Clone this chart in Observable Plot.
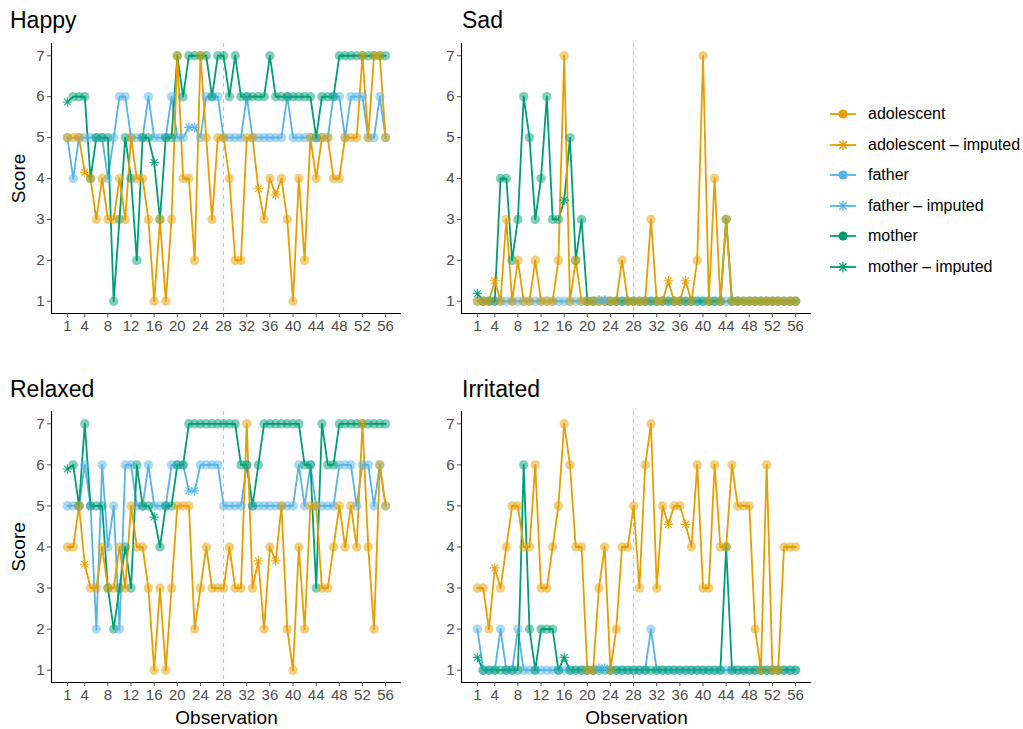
<!DOCTYPE html>
<html>
<head>
<meta charset="utf-8">
<script src="https://cdn.jsdelivr.net/npm/d3@7"></script>
<script src="https://cdn.jsdelivr.net/npm/@observablehq/plot@0.6"></script>
<style>
  body { margin: 0; background: #fff; font-family: "Liberation Sans", Arial, Helvetica, sans-serif; }
  #root { position: relative; width: 1023px; height: 729px; overflow: hidden; background: #fff; }
  .panel { position: absolute; }
  .title { position: absolute; font-size: 23px; line-height: 1; color: #000; white-space: nowrap; }
  .legend-row { position: absolute; left: 828px; height: 22px; display: flex; align-items: center; }
  .legend-row span { font-size: 16px; color: #000; margin-left: 10px; white-space: nowrap; }
</style>
</head>
<body>
<div id="root"></div>
<script>
// ---------------- data ----------------
const roles = ["adolescent", "father", "mother"];
const roleColors = ["#E69F00", "#56B4E9", "#009E73"];
const observationTicks = [1, 4, 8, 12, 16, 20, 24, 28, 32, 36, 40, 44, 48, 52, 56];
const scoreTicks = [1, 2, 3, 4, 5, 6, 7];
const splitObservation = 28;

// observations (1-based) that were imputed for each informant
const imputedAdolescent = [4, 34, 37];
const imputedFather = [22, 23];
const imputedMother = [1, 16];

const happyAdolescent = [
  5, 5, 5, 4.15, 4, 3, 4, 3, 3, 4,
  3, 5, 4, 4, 3, 1, 3, 1, 3, 7,
  4, 4, 2, 7, 5, 3, 5, 5, 4, 2,
  2, 5, 5, 3.75, 3, 4, 3.6, 4, 3, 1,
  4, 2, 5, 4, 5, 5, 4, 4, 5, 5,
  5, 7, 5, 7, 7, 5];
const happyFather = [
  5, 4, 5, 5, 5, 5, 5, 4, 5, 6,
  6, 5, 5, 5, 6, 5, 5, 5, 6, 5,
  5, 5.25, 5.25, 5, 6, 6, 6, 5, 5, 5,
  5, 6, 5, 5, 5, 5, 5, 5, 6, 5,
  5, 5, 5, 5, 5, 5, 6, 6, 5, 6,
  6, 6, 5, 5, 6, 5];
const happyMother = [
  5.87, 6, 6, 6, 4, 5, 5, 5, 1, 3,
  5, 4, 2, 5, 5, 4.39, 3, 5, 5, 7,
  6, 7, 7, 7, 7, 6, 7, 7, 6, 7,
  6, 6, 6, 6, 6, 7, 6, 6, 6, 6,
  6, 6, 6, 5, 6, 6, 6, 7, 7, 7,
  7, 7, 7, 7, 7, 7];

const sadAdolescent = [
  1, 1, 1, 1.5, 1, 3, 1, 2, 1, 1,
  2, 1, 1, 1, 2, 7, 1, 2, 1, 1,
  1, 1, 1, 1, 1, 2, 1, 1, 1, 1,
  3, 1, 1, 1.5, 1, 1, 1.5, 1, 2, 7,
  1, 4, 1, 3, 1, 1, 1, 1, 1, 1,
  1, 1, 1, 1, 1, 1];
const sadFather = [
  1, 1, 1, 1, 1, 1, 1, 1, 1, 1,
  1, 1, 1, 1, 1, 1, 1, 1, 1, 1,
  1, 1.03, 1.03, 1, 1, 1, 1, 1, 1, 1,
  1, 1, 1, 1, 1, 1, 1, 1, 1, 1,
  1, 1, 1, 1, 1, 1, 1, 1, 1, 1,
  1, 1, 1, 1, 1, 1];
const sadMother = [
  1.19, 1, 1, 1, 4, 4, 2, 3, 6, 5,
  3, 4, 6, 3, 3, 3.47, 5, 2, 3, 1,
  1, 1, 1, 1, 1, 1, 1, 1, 1, 1,
  1, 1, 1, 1, 1, 1, 1, 1, 1, 1,
  1, 1, 1, 3, 1, 1, 1, 1, 1, 1,
  1, 1, 1, 1, 1, 1];

const relaxedAdolescent = [
  4, 4, 5, 3.58, 3, 3, 4, 3, 3, 4,
  3, 5, 4, 4, 3, 1, 3, 1, 3, 5,
  5, 5, 2, 3, 4, 3, 3, 3, 4, 3,
  3, 7, 3, 3.66, 2, 4, 3.66, 5, 2, 1,
  4, 2, 5, 5, 3, 3, 4, 5, 4, 5,
  4, 7, 4, 2, 6, 5];
const relaxedFather = [
  5, 5, 5, 6, 5, 2, 6, 4, 5, 2,
  6, 6, 5, 5, 6, 5, 5, 5, 6, 6,
  6, 5.37, 5.37, 6, 6, 6, 6, 5, 5, 5,
  5, 6, 5, 5, 5, 5, 5, 5, 5, 5,
  6, 5, 6, 5, 5, 5, 5, 6, 6, 6,
  5, 6, 6, 5, 6, 5];
const relaxedMother = [
  5.9, 6, 5, 7, 5, 5, 5, 3, 2, 3,
  4, 3, 6, 5, 5, 4.73, 4, 5, 5, 6,
  6, 7, 7, 7, 7, 7, 7, 7, 7, 7,
  6, 6, 5, 6, 7, 7, 7, 7, 7, 7,
  7, 6, 6, 3, 7, 6, 6, 7, 7, 7,
  7, 7, 7, 7, 7, 7];

const irritatedAdolescent = [
  3, 3, 2, 3.49, 3, 4, 5, 5, 4, 4,
  6, 3, 3, 4, 5, 7, 6, 4, 4, 1,
  1, 3, 4, 1, 2, 4, 4, 5, 3, 6,
  7, 3, 5, 4.55, 5, 5, 4.55, 4, 6, 3,
  3, 6, 4, 4, 6, 5, 5, 5, 2, 1,
  6, 1, 1, 4, 4, 4];
const irritatedFather = [
  2, 1, 1, 1, 2, 1, 1, 2, 1, 1,
  1, 1, 1, 1, 1, 1, 1, 1, 1, 1,
  1, 1.05, 1.05, 1, 1, 1, 1, 1, 1, 1,
  2, 1, 1, 1, 1, 1, 1, 1, 1, 1,
  1, 1, 1, 1, 1, 1, 1, 1, 1, 1,
  1, 1, 1, 1, 1, 1];
const irritatedMother = [
  1.31, 1, 1, 1, 1, 1, 1, 1, 6, 2,
  1, 2, 2, 2, 1, 1.31, 1, 1, 1, 1,
  1, 1, 1, 1, 1, 1, 1, 1, 1, 1,
  1, 1, 1, 1, 1, 1, 1, 1, 1, 1,
  1, 1, 1, 4, 1, 1, 1, 1, 1, 1,
  1, 1, 1, 1, 1, 1];

// ---------------- build ----------------
function rowsFor(adolescent, father, mother) {
  const out = [];
  const add = (vals, role, imputed) => vals.forEach((v, i) =>
    out.push({obs: i + 1, score: v, role, imputed: imputed.includes(i + 1)}));
  // draw order: father, mother, adolescent (adolescent on top)
  add(father, "father", imputedFather);
  add(mother, "mother", imputedMother);
  add(adolescent, "adolescent", imputedAdolescent);
  return out;
}

const obsMin = observationTicks[0], obsMax = observationTicks[observationTicks.length - 1];
const xPad = (obsMax - obsMin) * 0.05;
const xDomain = [obsMin - xPad, obsMax + xPad];
const yPad = (scoreTicks[scoreTicks.length - 1] - scoreTicks[0]) * 0.05;
const yDomain = [scoreTicks[0] - yPad, scoreTicks[scoreTicks.length - 1] + yPad];

const asterisk8 = {
  draw(ctx, size) {
    const r = Math.sqrt(size / Math.PI);
    const d = r * Math.SQRT1_2;
    ctx.moveTo(-r, 0); ctx.lineTo(r, 0);
    ctx.moveTo(0, -r); ctx.lineTo(0, r);
    ctx.moveTo(-d, -d); ctx.lineTo(d, d);
    ctx.moveTo(-d, d); ctx.lineTo(d, -d);
  }
};

const root = document.getElementById("root");
const fontFamily = '"Liberation Sans", Arial, Helvetica, sans-serif';

function makePanel(cfg) {
  const rows = rowsFor(...cfg.series);
  const marks = [
    Plot.ruleX([splitObservation], {stroke: "#BDBDBD", strokeWidth: 1, strokeDasharray: "4,4"}),
    Plot.line(rows, {x: "obs", y: "score", z: "role", stroke: "role", strokeWidth: 1.8}),
    Plot.dot(rows.filter(d => !d.imputed), {x: "obs", y: "score", fill: "role", r: 4.7, fillOpacity: 0.5, stroke: "none"}),
    Plot.dot(rows.filter(d => d.imputed), {x: "obs", y: "score", stroke: "role", fill: "none", symbol: asterisk8, r: 4.8, strokeWidth: 1.2, strokeOpacity: 0.85}),
    Plot.ruleX([xDomain[0]], {stroke: "#000", strokeWidth: 1.1}),
    Plot.ruleY([yDomain[0]], {stroke: "#000", strokeWidth: 1.1}),
    Plot.axisX({ticks: observationTicks, tickFormat: "d", tickSize: 4, tickPadding: 3, label: null, fontSize: 15, color: "#4D4D4D"}),
    Plot.axisY({ticks: scoreTicks, tickFormat: "d", tickSize: 4, tickPadding: 3, label: null, fontSize: 15, color: "#4D4D4D"})
  ];
  if (cfg.yLabel) marks.push(Plot.text([cfg.yLabel], {text: d => d, frameAnchor: "left", dx: -33, rotate: -90, textAnchor: "middle", lineAnchor: "middle", fontSize: 19, fill: "#000"}));
  if (cfg.xLabel) marks.push(Plot.text([cfg.xLabel], {text: d => d, frameAnchor: "bottom", dy: 35, textAnchor: "middle", lineAnchor: "middle", fontSize: 19, fill: "#000"}));

  const svg = Plot.plot({
    width: cfg.width, height: cfg.height,
    marginTop: cfg.mt, marginBottom: cfg.mb, marginLeft: cfg.ml, marginRight: cfg.mr,
    x: {domain: xDomain},
    y: {domain: yDomain},
    color: {domain: roles, range: roleColors},
    style: {fontFamily, fontSize: "15px", background: "transparent", overflow: "visible"},
    marks
  });
  const wrap = document.createElement("div");
  wrap.className = "panel";
  wrap.style.left = cfg.left + "px";
  wrap.style.top = cfg.top + "px";
  wrap.appendChild(svg);
  root.appendChild(wrap);

  const t = document.createElement("div");
  t.className = "title";
  t.textContent = cfg.title;
  t.style.left = cfg.titleX + "px";
  t.style.top = cfg.titleY + "px";
  root.appendChild(t);
}

makePanel({title: "Happy", titleX: 10, titleY: 9, left: 0, top: 36, width: 412, height: 300, mt: 7, mb: 23, ml: 51, mr: 11,
  series: [happyAdolescent, happyFather, happyMother], yLabel: "Score"});
makePanel({title: "Sad", titleX: 462, titleY: 9, left: 410, top: 36, width: 412, height: 300, mt: 7, mb: 23, ml: 51, mr: 11,
  series: [sadAdolescent, sadFather, sadMother]});
makePanel({title: "Relaxed", titleX: 10, titleY: 378, left: 0, top: 405, width: 412, height: 324, mt: 6, mb: 47, ml: 51, mr: 11,
  series: [relaxedAdolescent, relaxedFather, relaxedMother], yLabel: "Score", xLabel: "Observation"});
makePanel({title: "Irritated", titleX: 462, titleY: 378, left: 410, top: 405, width: 412, height: 324, mt: 6, mb: 47, ml: 51, mr: 11,
  series: [irritatedAdolescent, irritatedFather, irritatedMother], xLabel: "Observation"});

// ---------------- legend ----------------
const legendItems = [
  {label: "adolescent", role: "adolescent", imputed: false},
  {label: "adolescent \u2013 imputed", role: "adolescent", imputed: true},
  {label: "father", role: "father", imputed: false},
  {label: "father \u2013 imputed", role: "father", imputed: true},
  {label: "mother", role: "mother", imputed: false},
  {label: "mother \u2013 imputed", role: "mother", imputed: true}
];
const legendTop = 103, legendStep = 30.6;
legendItems.forEach((it, i) => {
  const color = roleColors[roles.indexOf(it.role)];
  const row = document.createElement("div");
  row.className = "legend-row";
  row.style.top = (legendTop + i * legendStep) + "px";
  const ns = "http://www.w3.org/2000/svg";
  const s = document.createElementNS(ns, "svg");
  s.setAttribute("width", 30); s.setAttribute("height", 22);
  const ln = document.createElementNS(ns, "line");
  ln.setAttribute("x1", 2); ln.setAttribute("x2", 28); ln.setAttribute("y1", 11); ln.setAttribute("y2", 11);
  ln.setAttribute("stroke", color); ln.setAttribute("stroke-width", 1.8);
  s.appendChild(ln);
  if (it.imputed) {
    const p = document.createElementNS(ns, "path");
    const path = d3.path();
    asterisk8.draw(path, Math.PI * 5.2 * 5.2);
    p.setAttribute("d", path.toString());
    p.setAttribute("transform", "translate(15,11)");
    p.setAttribute("stroke", color); p.setAttribute("stroke-width", 1.3); p.setAttribute("fill", "none");
    s.appendChild(p);
  } else {
    const c = document.createElementNS(ns, "circle");
    c.setAttribute("cx", 15); c.setAttribute("cy", 11); c.setAttribute("r", 4.6);
    c.setAttribute("fill", color);
    s.appendChild(c);
  }
  row.appendChild(s);
  const sp = document.createElement("span");
  sp.textContent = it.label;
  row.appendChild(sp);
  root.appendChild(row);
});
</script>
</body>
</html>
